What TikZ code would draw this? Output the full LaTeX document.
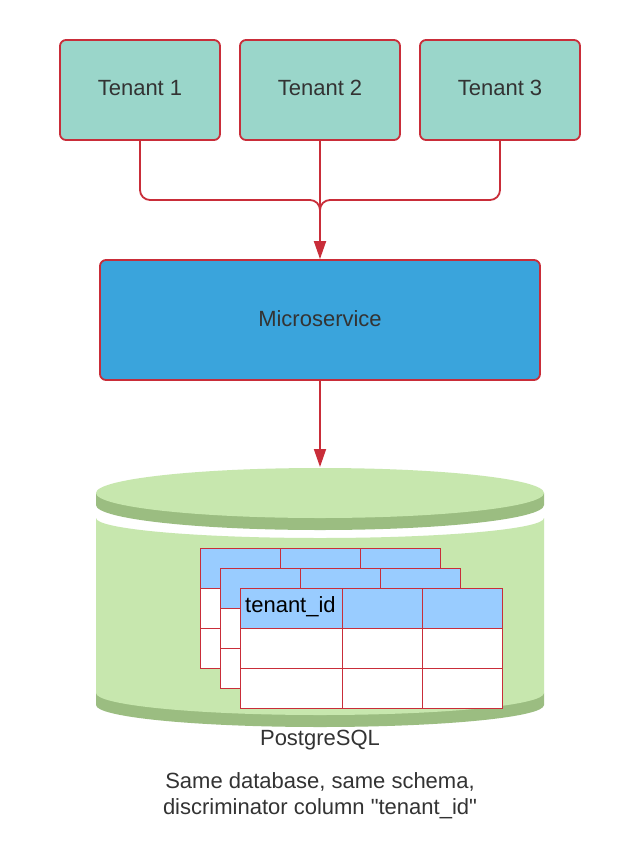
\documentclass[tikz,border=0pt]{standalone}
\usepackage{fontspec}
\setmainfont{Liberation Sans}
\usetikzlibrary{arrows.meta}
\definecolor{lred}{RGB}{201,45,57}
\definecolor{teal}{RGB}{154,214,202}
\definecolor{msblue}{RGB}{58,164,220}
\definecolor{lgreen}{RGB}{199,231,174}
\definecolor{dgreen}{RGB}{155,189,129}
\definecolor{hdr}{RGB}{153,204,255}
\definecolor{txt}{RGB}{51,51,51}
\tikzset{
  box/.style={draw=lred, line width=1.8pt, rounded corners=6pt, text=txt,
    font=\fontsize{22}{26}\selectfont},
  conn/.style={draw=lred, line width=1.8pt},
  tip/.style={-{Triangle[length=18pt,width=12pt]}},
  cell/.style={draw=lred, line width=1pt},
  lbl/.style={text=txt, font=\fontsize{22}{26}\selectfont, align=center}
}
\begin{document}
\begin{tikzpicture}[x=1pt,y=-1pt]
\useasboundingbox (0,0) rectangle (640,868);
\fill[white] (0,0) rectangle (640,868);
% tenants
\node[box, fill=teal, minimum width=160pt, minimum height=100pt] (t1) at (140,90) {\raisebox{4pt}{Tenant 1}};
\node[box, fill=teal, minimum width=160pt, minimum height=100pt] (t2) at (320,90) {\raisebox{4pt}{Tenant 2}};
\node[box, fill=teal, minimum width=160pt, minimum height=100pt] (t3) at (500,90) {\raisebox{4pt}{Tenant 3}};
% microservice
\node[box, fill=msblue, minimum width=440pt, minimum height=120pt] (ms) at (320,320) {\raisebox{3pt}{Microservice}};
\coordinate (join) at (320,230);
\coordinate (db) at (320,467);
% connectors
\draw[conn, rounded corners=10pt] (t1.south) |- (320,200) -- (join);
\draw[conn, rounded corners=10pt] (t3.south) |- (320,200) -- (join);
\draw[conn, tip] (t2.south) -- (ms.north);
\draw[conn, tip] (ms.south) -- (db);
% cylinder bottom band
\fill[dgreen] (96,693) -- (96,705) arc[start angle=180, end angle=360, x radius=224pt, y radius=22pt]
  -- (544,693) -- cycle;
% cylinder body
\fill[lgreen] (96,518) -- (96,693) arc[start angle=180, end angle=360, x radius=224pt, y radius=22pt]
  -- (544,518) arc[start angle=0, end angle=-180, x radius=224pt, y radius=20pt] -- cycle;
% lid
\fill[dgreen] (96,493) -- (96,505) arc[start angle=180, end angle=360, x radius=224pt, y radius=25pt]
  -- (544,493) -- cycle;
\fill[lgreen] (320,493) ellipse [x radius=224pt, y radius=25pt];
% back tables
\foreach \dx/\dy in {0/0, 20/20} {
  \begin{scope}[shift={(\dx,\dy)}]
    \fill[hdr] (200,548) rectangle (440,588);
    \fill[white] (200,588) rectangle (440,668);
    \draw[cell] (200,548) rectangle (440,668);
    \draw[cell] (200,588) -- (440,588) (200,628) -- (440,628);
    \draw[cell] (280,548) -- (280,668) (360,548) -- (360,668);
  \end{scope}
}
% front table
\fill[hdr] (240,588) rectangle (502,628);
\fill[white] (240,628) rectangle (502,708);
\draw[cell] (240,588) rectangle (502,708);
\draw[cell] (240,628) -- (502,628) (240,668) -- (502,668);
\draw[cell] (342,588) -- (342,708) (422,588) -- (422,708);
\node[anchor=west, inner sep=0pt, font=\fontsize{22}{26}\selectfont] (tid) at (245,607) {tenant\_id};
% labels
\node[lbl] (pg) at (320,740) {PostgreSQL};
\node[lbl] (note) at (320,796) {Same database, same schema,\\discriminator column \textquotedbl tenant\_id\textquotedbl};
\end{tikzpicture}
\end{document}
